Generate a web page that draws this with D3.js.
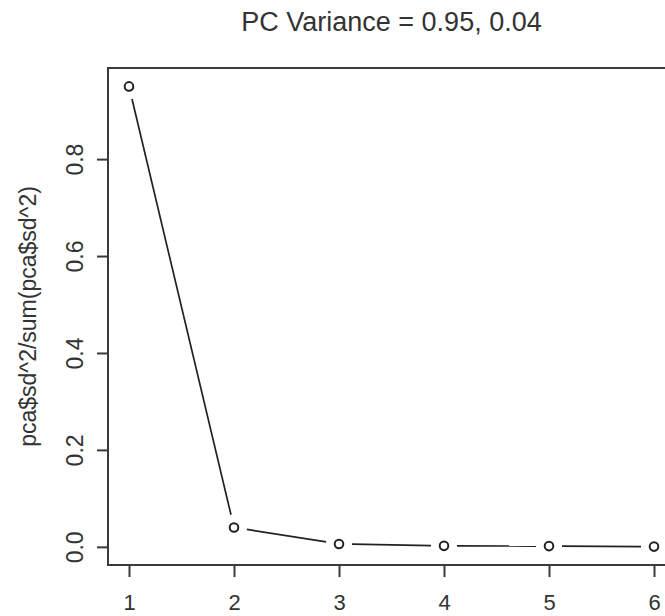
<!DOCTYPE html>
<html>
<head>
<meta charset="utf-8">
<script src="https://cdn.jsdelivr.net/npm/d3@7"></script>
<style>
  html, body { margin: 0; padding: 0; background: #ffffff; }
  svg { display: block; }
  text { font-family: "Liberation Sans", Arial, Helvetica, sans-serif; fill: #333; }
</style>
</head>
<body>
<script>
// ---- data ----
const components = [1, 2, 3, 4, 5, 6];
const varianceShare = [0.95, 0.04, 0.006, 0.002, 0.0015, 0.0005];
const xTicks = [1, 2, 3, 4, 5, 6];
const yTicks = [0.0, 0.2, 0.4, 0.6, 0.8];
const titleText = "PC Variance = 0.95, 0.04";
const yLabelText = "pca$sd^2/sum(pca$sd^2)";

(function () {
const W = 665, H = 616;
const pLeft = 108, pRight = 675, pTop = 68, pBottom = 565;

const svg = d3.select("body").append("svg").attr("width", W).attr("height", H);

// R-style 4% padding
const xr = d3.extent(components), yr = d3.extent(varianceShare);
const xp = (xr[1] - xr[0]) * 0.04, yp = (yr[1] - yr[0]) * 0.04;
const x = d3.scaleLinear().domain([xr[0] - xp, xr[1] + xp]).range([pLeft, pRight]);
const y = d3.scaleLinear().domain([yr[0] - yp, yr[1] + yp]).range([pBottom, pTop]);

const ink = "#3a3a3a";

// box
svg.append("rect").attr("x", pLeft).attr("y", pTop)
  .attr("width", pRight - pLeft).attr("height", pBottom - pTop)
  .attr("fill", "none").attr("stroke", ink).attr("stroke-width", 2);

// x axis
const xAxis = d3.axisBottom(x).tickValues(xTicks).tickSize(12).tickFormat(d3.format("d"));
const gx = svg.append("g").attr("transform", `translate(0,${pBottom})`).call(xAxis);
gx.select(".domain").remove();
gx.selectAll(".tick line").attr("stroke", ink).attr("stroke-width", 2);
gx.selectAll(".tick text").attr("y", 0).attr("dy", null)
  .attr("transform", "translate(0,45)")
  .attr("font-size", 22).style("fill", "#333")
  .attr("font-family", "Liberation Sans, Arial, sans-serif");

// y axis
const yAxis = d3.axisLeft(y).tickValues(yTicks).tickSize(11).tickFormat(d3.format(".1f"));
const gy = svg.append("g").attr("transform", `translate(${pLeft},0)`).call(yAxis);
gy.select(".domain").remove();
gy.selectAll(".tick line").attr("stroke", ink).attr("stroke-width", 2);
gy.selectAll(".tick text").attr("x", null).attr("dy", null)
  .attr("transform", "translate(-25,0) rotate(-90)")
  .attr("text-anchor", "middle")
  .attr("font-size", 23).style("fill", "#333")
  .attr("font-family", "Liberation Sans, Arial, sans-serif");

// y label
svg.append("text")
  .attr("transform", `translate(36,${(pTop + pBottom) / 2}) rotate(-90)`)
  .attr("text-anchor", "middle").attr("font-size", 23)
  .text(yLabelText);

// title
svg.append("text")
  .attr("x", (pLeft + pRight) / 2).attr("y", 31)
  .attr("text-anchor", "middle").attr("font-size", 27)
  .text(titleText);

// lines with gaps (type = "b")
const pts = components.map((c, i) => [x(c), y(varianceShare[i])]);
const gap = 13;
for (let i = 0; i < pts.length - 1; i++) {
  const [x0, y0] = pts[i], [x1, y1] = pts[i + 1];
  const dx = x1 - x0, dy = y1 - y0, L = Math.hypot(dx, dy);
  if (L <= 2 * gap) continue;
  const ux = dx / L, uy = dy / L;
  svg.append("line")
    .attr("x1", x0 + ux * gap).attr("y1", y0 + uy * gap)
    .attr("x2", x1 - ux * gap).attr("y2", y1 - uy * gap)
    .attr("stroke", "#222").attr("stroke-width", 1.7);
}

// points
svg.selectAll("circle.pt").data(components).enter().append("circle")
  .attr("class", "pt")
  .attr("cx", (d) => x(d))
  .attr("cy", (d, i) => y(varianceShare[i]))
  .attr("r", 4.3)
  .attr("fill", "none").attr("stroke", "#222").attr("stroke-width", 2);
})();
</script>
</body>
</html>
